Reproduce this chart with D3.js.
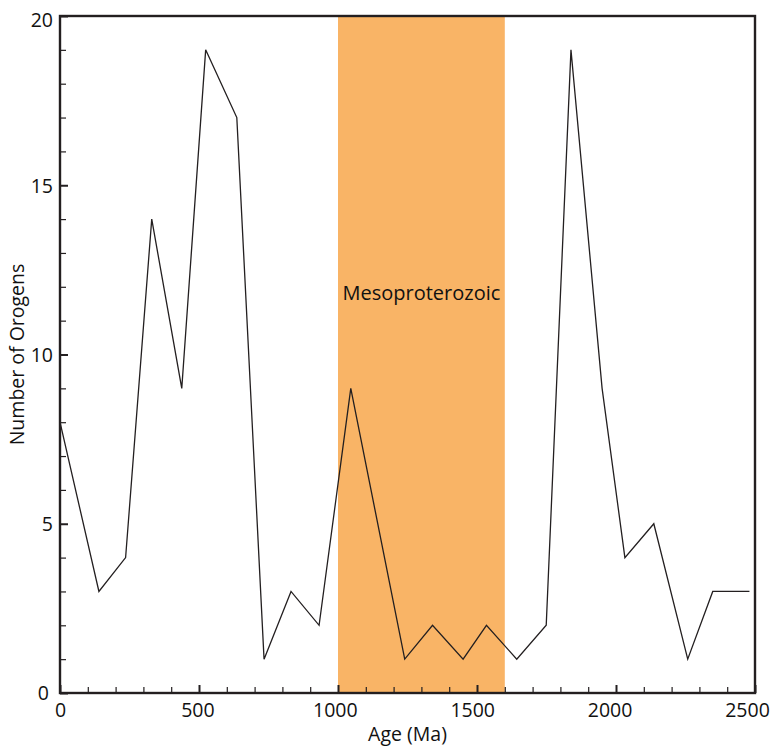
<!DOCTYPE html>
<html>
<head>
<meta charset="utf-8">
<script src="https://cdn.jsdelivr.net/npm/d3@7"></script>
<style>
    body { margin: 0; background: #fff; }
    text { font-family: "Open Sans", "DejaVu Sans", sans-serif; fill: #111; }
</style>
</head>
<body>
<div id="chart"></div>
<script>
// Orogen counts per age bin
const ages = [0, 140, 236, 330, 438, 524, 636, 734, 831, 932, 1046, 1240, 1340, 1450, 1534, 1643, 1749, 1838, 1950, 2032, 2136, 2258, 2348, 2480];
const counts = [8, 3, 4, 14, 9, 19, 17, 1, 3, 2, 9, 1, 2, 1, 2, 1, 2, 19, 9, 4, 5, 1, 3, 3];

// Shaded era
const eraName = ["Mesoproterozoic"];
const eraSpan = [1000, 1600];

const xMajor = [0, 500, 1000, 1500, 2000, 2500];
const yMajor = [0, 5, 10, 15, 20];

const width = 772, height = 747;
const plotLeft = 60, plotRight = 755, plotTop = 16, plotBottom = 693;
const fontSize = "19.5px";

const svg = d3.select("#chart")
    .append("svg")
    .attr("width", width)
    .attr("height", height);

const x = d3.scaleLinear().domain([0, 2500]).range([plotLeft, plotRight]);
const y = d3.scaleLinear().domain([0, 20]).range([plotBottom, plotTop]);

// Era band
svg.append("rect")
    .attr("x", x(eraSpan[0]))
    .attr("y", plotTop)
    .attr("width", x(eraSpan[1]) - x(eraSpan[0]))
    .attr("height", plotBottom - plotTop)
    .attr("fill", "#f9b466");

svg.append("text")
    .attr("x", (x(eraSpan[0]) + x(eraSpan[1])) / 2)
    .attr("y", 300)
    .attr("text-anchor", "middle")
    .style("font-size", "20px")
    .text(eraName[0]);

// Line
const line = d3.line()
    .x((d, i) => x(ages[i]))
    .y(d => y(d));

svg.append("path")
    .datum(counts)
    .attr("fill", "none")
    .attr("stroke", "#231f20")
    .attr("stroke-width", 1.3)
    .attr("d", line);

// Minor ticks
const xMinor = d3.range(0, 2501, 100).filter(v => v % 500 !== 0);
const yMinor = d3.range(0, 21, 1).filter(v => v % 5 !== 0);

const xMinorAxis = svg.append("g")
    .attr("transform", `translate(0,${plotBottom})`)
    .call(d3.axisBottom(x).tickValues(xMinor).tickSize(-6).tickFormat(""));
const yMinorAxis = svg.append("g")
    .attr("transform", `translate(${plotLeft},0)`)
    .call(d3.axisLeft(y).tickValues(yMinor).tickSize(-6).tickFormat(""));

// Major ticks with labels
const xAxis = svg.append("g")
    .attr("transform", `translate(0,${plotBottom})`)
    .call(d3.axisBottom(x).tickValues(xMajor).tickSize(-8).tickPadding(24).tickFormat(d3.format("d")));
const yAxis = svg.append("g")
    .attr("transform", `translate(${plotLeft},0)`)
    .call(d3.axisLeft(y).tickValues(yMajor).tickSize(-8).tickPadding(7).tickFormat(d3.format("d")));

[xMinorAxis, yMinorAxis, xAxis, yAxis].forEach(a => {
    a.select(".domain").remove();
    a.selectAll("line").attr("stroke", "#231f20").attr("stroke-width", 1.2);
});
[xAxis, yAxis].forEach(a => {
    a.selectAll("line").attr("stroke-width", 2);
    a.selectAll("text")
        .style("font-size", fontSize)
        .style("font-family", "'Open Sans', sans-serif")
        .attr("fill", "#111");
});
// labels sit a little left of their ticks in the original
xAxis.selectAll("text")
    .attr("dy", "0")
    .attr("dx", d => -d * 0.0032);
yAxis.selectAll("text")
    .attr("dy", d => d === 20 ? "0.55em" : "0.35em")
    .attr("dx", d => d === 0 ? -4 : 0);

// Frame
svg.append("rect")
    .attr("x", plotLeft)
    .attr("y", plotTop)
    .attr("width", plotRight - plotLeft)
    .attr("height", plotBottom - plotTop)
    .attr("fill", "none")
    .attr("stroke", "#231f20")
    .attr("stroke-width", 2.4);

// Axis titles
svg.append("text")
    .attr("x", (plotLeft + plotRight) / 2)
    .attr("y", 741)
    .attr("text-anchor", "middle")
    .style("font-size", fontSize)
    .text("Age (Ma)");

svg.append("text")
    .attr("transform", `translate(24,${(plotTop + plotBottom) / 2}) rotate(-90)`)
    .attr("text-anchor", "middle")
    .style("font-size", fontSize)
    .text("Number of Orogens");
</script>
</body>
</html>
